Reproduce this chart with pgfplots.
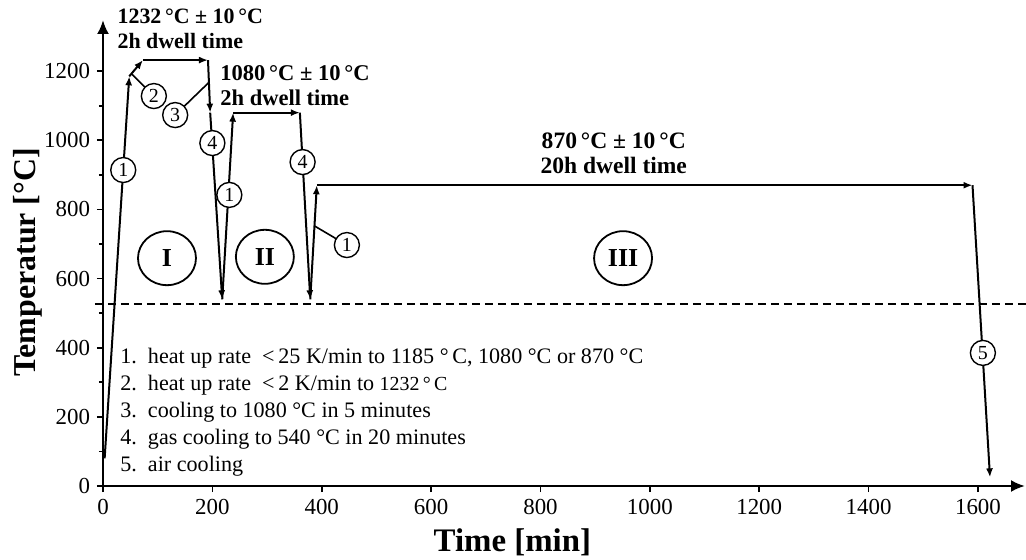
\documentclass[border=0pt]{standalone}
\usepackage{fontspec}
\setmainfont{Liberation Serif}
\usepackage{pgfplots}
\pgfplotsset{compat=1.18}
\usetikzlibrary{arrows.meta,shapes.geometric}

\begin{document}
\begin{tikzpicture}
\begin{axis}[
  scale only axis, width=461bp, height=233bp,
  xmin=0, xmax=1686, ymin=0, ymax=1348,
  axis lines=left,
  axis line style={line width=1.2bp, -{Latex[length=7bp,width=6bp]}},
  xtick={0,200,...,1600}, ytick={0,200,...,1200},
  minor ytick={100,300,...,1100},
  tick align=outside, major tick length=3bp, minor tick length=2bp,
  every tick/.style={black, line width=0.8bp},
  tick label style={font=\fontsize{11.5}{13}\selectfont},
  /pgf/number format/assume math mode=true,
  /pgf/number format/1000 sep={},
  xlabel={Time [min]}, ylabel={Temperatur [°C]},
  xlabel style={font=\bfseries\fontsize{16.5}{19}\selectfont, at={(axis description cs:0.444,0)}, anchor=center, yshift=-28bp},
  ylabel style={font=\bfseries\fontsize{16}{19}\selectfont, at={([xshift=-37.5bp]axis description cs:0,0.48)}, anchor=center, rotate=0},
  clip=false,
  seg/.style={black, line width=1bp, -{Latex[length=4.5bp,width=3.5bp]}},
]
\coordinate (O) at (axis cs:0,0);
% dashed 540 line
\addplot[black, line width=1bp, dash pattern=on 4bp off 2.5bp] coordinates {(-15,526) (1688,526)};
% process curve
\addplot[seg] coordinates {(3,80) (48,1185)};
\addplot[seg] coordinates {(48,1185) (73,1232)};
\addplot[seg] coordinates {(73,1232) (192,1232)};
\addplot[seg] coordinates {(192,1232) (196,1080)};
\addplot[seg] coordinates {(196,1080) (218,540)};
\addplot[seg] coordinates {(218,540) (238,1080)};
\addplot[seg] coordinates {(238,1080) (360,1080)};
\addplot[seg] coordinates {(360,1080) (379,540)};
\addplot[seg] coordinates {(379,540) (391,870)};
\addplot[seg] coordinates {(391,870) (1590,870)};
\addplot[seg] coordinates {(1590,870) (1622,25)};
% connectors
\draw[line width=0.8bp] (axis cs:53,1191) -- (axis cs:93,1128);
\draw[line width=0.8bp] (axis cs:194,1168) -- (axis cs:132,1073);
\draw[line width=0.8bp] (axis cs:387,752) -- (axis cs:446,697);
% circled numbers
\begin{scope}[every node/.style={circle, draw, fill=white, minimum size=12.5bp, inner sep=0pt, line width=0.7bp, font=\fontsize{10}{10}\selectfont}]
\node at (axis cs:37,914) {1};
\node at (axis cs:93,1128) {2};
\node at (axis cs:132,1073) {3};
\node at (axis cs:200,992) {4};
\node at (axis cs:231,842) {1};
\node at (axis cs:365,937) {4};
\node at (axis cs:446,697) {1};
\node at (axis cs:1609,385) {5};
\end{scope}
% stage ellipses
\begin{scope}[every node/.style={ellipse, draw, line width=0.9bp, minimum width=29bp, minimum height=27bp, inner sep=0pt, font=\bfseries\fontsize{13}{13}\selectfont}]
\node at (axis cs:117,659) {I};
\node at (axis cs:296,663) {II};
\node at (axis cs:951,659) {III};
\end{scope}
% dwell annotations
\node[anchor=north west, inner sep=0pt, align=left, font=\bfseries\fontsize{11}{12.5}\selectfont] at (axis cs:26,1382) {1232\,°C ± 10\,°C\\2h dwell time};
\node[anchor=north west, inner sep=0pt, align=left, font=\bfseries\fontsize{11.3}{12.5}\selectfont] at (axis cs:214,1217) {1080\,°C ± 10\,°C\\2h dwell time};
\node[anchor=north, inner sep=0pt, align=center, font=\bfseries\fontsize{11.8}{12.8}\selectfont] at (axis cs:934,1023) {870\,°C ± 10\,°C\\20h dwell time};
% legend list
\node[anchor=north west, inner sep=0pt, font=\fontsize{11.1}{13.5}\selectfont] at (axis cs:31,410) {%
\begin{tabular}{@{}l@{\ \ }l@{}}
1. & heat up rate\ \ <\,25 K/min to 1185 °\,C, 1080 °C or 870 °C\\
2. & heat up rate\ \ <\,2 K/min to {\fontsize{10}{10}\selectfont 1232\,°\,C}\\
3. & cooling to 1080 °C in 5 minutes\\
4. & gas cooling to 540 °C in 20 minutes\\
5. & air cooling
\end{tabular}};
\end{axis}
\pgfresetboundingbox
\path[use as bounding box] (O) ++(-51.5bp,-37bp) rectangle ++(513bp,280bp);
\end{tikzpicture}
\end{document}
